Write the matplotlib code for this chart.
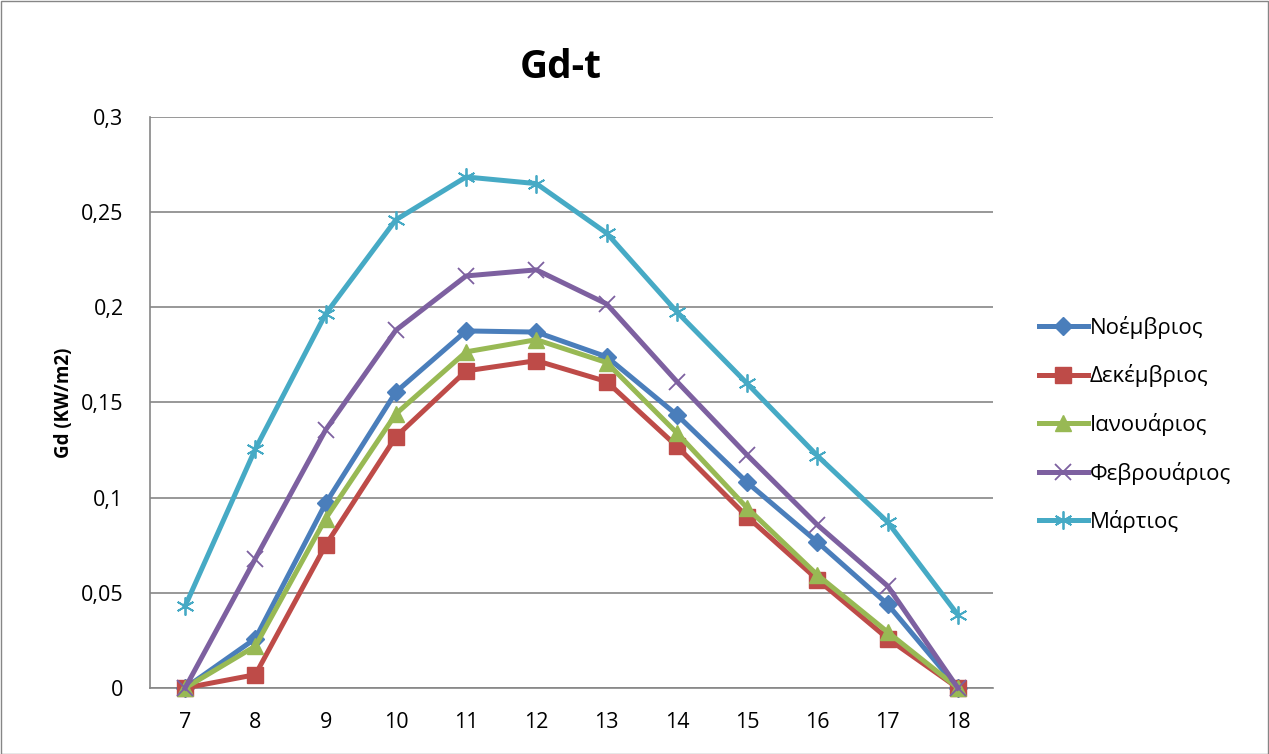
import matplotlib
matplotlib.use("Agg")
import matplotlib.pyplot as plt
from matplotlib.ticker import FuncFormatter, FixedLocator, MultipleLocator

plt.rcParams['font.family'] = ['Open Sans', 'DejaVu Sans']

hours = [7, 8, 9, 10, 11, 12, 13, 14, 15, 16, 17, 18]
series_names = ["Νοέμβριος", "Δεκέμβριος", "Ιανουάριος", "Φεβρουάριος", "Μάρτιος"]
noe = [0, 0.026, 0.097, 0.1555, 0.1876, 0.187, 0.174, 0.1435, 0.108, 0.0767, 0.044, 0]
dek = [0, 0.007, 0.075, 0.132, 0.1666, 0.172, 0.161, 0.127, 0.090, 0.057, 0.026, 0]
ian = [0, 0.022, 0.089, 0.144, 0.1766, 0.183, 0.171, 0.134, 0.0946, 0.0594, 0.0294, 0]
feb = [0, 0.068, 0.1356, 0.188, 0.2165, 0.2197, 0.2018, 0.161, 0.1224, 0.0857, 0.0536, 0]
mar = [0.043, 0.1256, 0.1965, 0.246, 0.2685, 0.265, 0.239, 0.1976, 0.160, 0.122, 0.0872, 0.0384]

colors = ["#4A7EBB", "#BE4B48", "#98B954", "#7D60A0", "#46AAC5"]
markers = ["D", "s", "^", "x", (6, 2, 0)]
msizes = [9, 11, 11, 11, 13]
mews = [1, 1, 1, 1.3, 1.3]

fig = plt.figure(figsize=(12.69, 7.54), dpi=100)
W, H = 1269, 754
ax = fig.add_axes([150 / W, 1 - 688 / H, (993 - 150) / W, (688 - 117) / H])

xpos = list(range(len(hours)))
for vals, name, c, m, ms, mew in zip([noe, dek, ian, feb, mar], series_names, colors, markers, msizes, mews):
    ax.plot(xpos, vals, color=c, lw=3.6, marker=m, markersize=ms, markerfacecolor=c,
            markeredgecolor=c, markeredgewidth=mew, label=name, clip_on=False, zorder=3)

ax.set_xlim(-0.5, len(hours) - 0.5)
ax.set_ylim(0, 0.3)
ax.yaxis.set_major_locator(MultipleLocator(0.05))
ax.yaxis.set_major_formatter(FuncFormatter(lambda v, p: ("%g" % round(v, 3)).replace(".", ",")))
ax.set_xticks(xpos)
ax.set_xticklabels([str(h) for h in hours])
ax.xaxis.set_minor_locator(FixedLocator([i - 0.5 for i in range(len(hours) + 1)]))
ax.tick_params(axis='x', which='major', length=0, labelsize=15.5, pad=17)
ax.tick_params(axis='x', which='minor', length=0)
ax.tick_params(axis='y', length=0, labelsize=15.5, pad=19)

ax.grid(axis='y', color='#868686', lw=1.2, zorder=0)
ax.set_axisbelow(True)
for s in ['top', 'right']:
    ax.spines[s].set_visible(False)
for s in ['left', 'bottom']:
    ax.spines[s].set_color('#868686')
    ax.spines[s].set_linewidth(1.2)

ax.set_ylabel("Gd (KW/m2)", fontsize=13.5, fontweight='bold', labelpad=5)
fig.text(561 / W, 1 - 67 / H, "Gd-t", fontsize=28, fontweight='bold', ha='center', va='center')

leg = fig.legend(loc='upper left', bbox_to_anchor=(1030 / W, 1 - 307 / H), frameon=False,
                 fontsize=16, handlelength=2.2, handletextpad=0.1, labelspacing=1.15,
                 borderaxespad=0)

# outer chart border
fig.patches.append(plt.Rectangle((0.5 / W, 0.5 / H), 1 - 1.5 / W, 1 - 1.5 / H, transform=fig.transFigure,
                                 fill=False, edgecolor='#868686', lw=1))

fig.savefig("out.png", dpi=100)
